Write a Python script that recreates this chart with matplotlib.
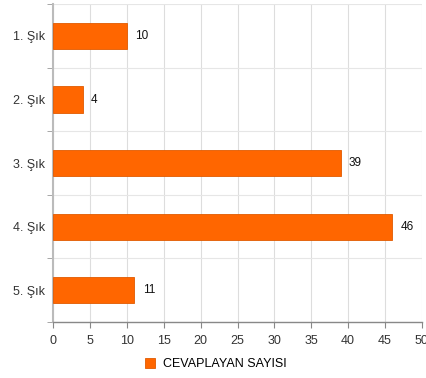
import matplotlib
matplotlib.use('Agg')
import matplotlib.pyplot as plt
import numpy as np

categories = ['1. Şık', '2. Şık', '3. Şık', '4. Şık', '5. Şık']
values = [10, 4, 39, 46, 11]
series_name = 'CEVAPLAYAN SAYISI'
x_ticks = list(range(0, 51, 5))

plt.rcParams['font.family'] = ['Liberation Sans', 'DejaVu Sans']
plt.rcParams['font.size'] = 8.5

fig = plt.figure(figsize=(4.27, 3.78), dpi=100)
ax = fig.add_axes([0.125, 0.148, 0.863, 0.841])

y = np.arange(len(categories))
bars = ax.barh(y, values, height=0.41, color='#ff6600', edgecolor='#e05a00',
               linewidth=0.6, label=series_name, zorder=3)
for yi, v in zip(y, values):
    ax.text(v + 1.1, yi, str(v), va='center', ha='left', fontsize=8.5, color='#111111')

ax.set_ylim(len(categories) - 0.5, -0.5)
ax.set_xlim(0, 50)
ax.set_xticks(x_ticks)
ax.set_yticks(y)
ax.set_yticklabels(categories, color='#333333', fontsize=9)
ax.set_yticks(np.arange(-0.5, len(categories), 1), minor=True)
ax.tick_params(axis='y', which='major', length=0, pad=6)
ax.tick_params(axis='y', which='minor', length=4, color='#999999')
ax.tick_params(axis='x', length=4, color='#888888', labelcolor='#333333', labelsize=9, pad=5)

ax.grid(axis='x', color='#dddddd', linewidth=0.8, zorder=0)
ax.grid(axis='y', which='minor', color='#e6e6e6', linewidth=0.8, zorder=0)
for s in ['top', 'right']:
    ax.spines[s].set_visible(False)
ax.spines['left'].set_color('#bbbbbb')
ax.spines['left'].set_linewidth(1.5)
ax.spines['bottom'].set_color('#888888')
ax.spines['bottom'].set_linewidth(1.0)

fig.legend(handles=[bars], labels=[series_name], loc='center', bbox_to_anchor=(0.505, 0.037),
           frameon=False, handlelength=0.8, handleheight=0.8, fontsize=9,
           handletextpad=0.6)

fig.savefig('out.png', dpi=100)
